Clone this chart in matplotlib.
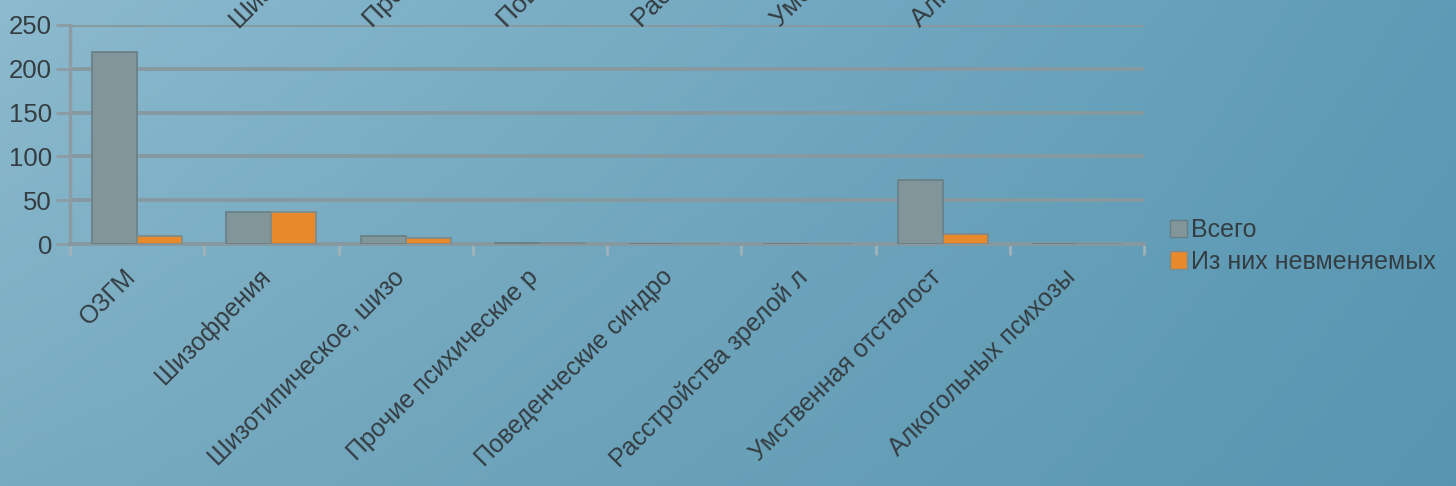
import numpy as np
import matplotlib.pyplot as plt
from matplotlib.patches import Patch

categories = ['ОЗГМ', 'Шизофрения', 'Шизотипическое, шизо', 'Прочие психические р',
              'Поведенческие синдро', 'Расстройства зрелой л', 'Умственная отсталост',
              'Алкогольных психозы']
total = [219, 36, 9, 1, 0, 0, 73, 0]
insane = [9, 36, 7, 1, 0, 0, 11, 0]
top_labels = ['Шизофрения', 'Прочие психические', 'Поведенческие синдромы',
              'Расстройства зрелой личности', 'Умственная отсталость',
              'Алкогольных психозы']
yticks = [0, 50, 100, 150, 200, 250]

W, H = 1456, 486
plt.rcParams['font.family'] = ['Liberation Sans', 'DejaVu Sans']
txt = '#343d42'

fig = plt.figure(figsize=(W/100, H/100), dpi=100)

# background gradient
bg = fig.add_axes([0, 0, 1, 1], zorder=-10)
c_tl = np.array([140, 186, 206]) / 255
c_bl = np.array([121, 171, 192]) / 255
c_tr = np.array([95, 155, 182]) / 255
xx, yy = np.meshgrid(np.linspace(0, 1, 200), np.linspace(0, 1, 80))
img = c_tl + xx[..., None]*(c_tr - c_tl) + yy[..., None]*(c_bl - c_tl)*(1 - 0.6*xx[..., None])
bg.imshow(np.clip(img, 0, 1), aspect='auto', extent=[0, 1, 0, 1], origin='upper')
bg.axis('off')

ax = fig.add_axes([70/W, (H-244)/H, 1074/W, 219/H])
ax.set_facecolor('none')

x = np.arange(len(categories))
bw = 0.335
ax.bar(x - bw/2, total, bw, color='#82969a', edgecolor='#687e86', lw=1.2, zorder=3, label='Всего')
ax.bar(x + bw/2, insane, bw, color='#e8892c', edgecolor='#7a8a8e', lw=1.2, zorder=3,
       label='Из них невменяемых')

ax.set_xlim(-0.5, len(categories) - 0.5)
ax.set_ylim(0, 250)
ax.set_yticks(yticks)
ax.set_yticklabels([str(v) for v in yticks], fontsize=18.5, color=txt)
ax.grid(axis='y', color='#8799a0', lw=2.8, zorder=1)
ax.tick_params(axis='y', length=10, width=2, color='#8c9ca2', pad=3)

# label anchors sit a little left of the group centre
ax.set_xticks(x - 0.1)
ax.set_xticklabels(categories, rotation=45, ha='right', rotation_mode='anchor',
                   fontsize=18, color=txt)
ax.set_xticks(np.arange(-0.5, len(categories)), minor=True)
ax.tick_params(axis='x', which='major', length=0, pad=15)
ax.tick_params(axis='x', which='minor', length=8, width=2, color='#a3b2b8')

for s in ['top', 'right']:
    ax.spines[s].set_visible(False)
ax.spines['left'].set_color('#8c9ca2')
ax.spines['left'].set_linewidth(2.5)
ax.spines['bottom'].set_color('#8799a0')
ax.spines['bottom'].set_linewidth(2.8)

# clipped labels at the very top, as in the source slide
top_x = [238, 372, 506, 641, 780, 920]
for tx, lab in zip(top_x, top_labels):
    fig.text(tx/W, (H-28)/H, lab, rotation=45, ha='left', va='baseline',
             rotation_mode='anchor', fontsize=19, color=txt)

handles = [Patch(facecolor='#82969a', edgecolor='#687e86', label='Всего'),
           Patch(facecolor='#e8892c', edgecolor='#7a8a8e', label='Из них невменяемых')]
fig.legend(handles=handles, loc='center left', bbox_to_anchor=(1157/W, (H-246)/H),
           frameon=False, fontsize=18, handlelength=0.7, handleheight=0.7,
           handletextpad=0.15, labelspacing=0.3, labelcolor=txt, borderpad=0)

fig.savefig('out.png', dpi=100)
